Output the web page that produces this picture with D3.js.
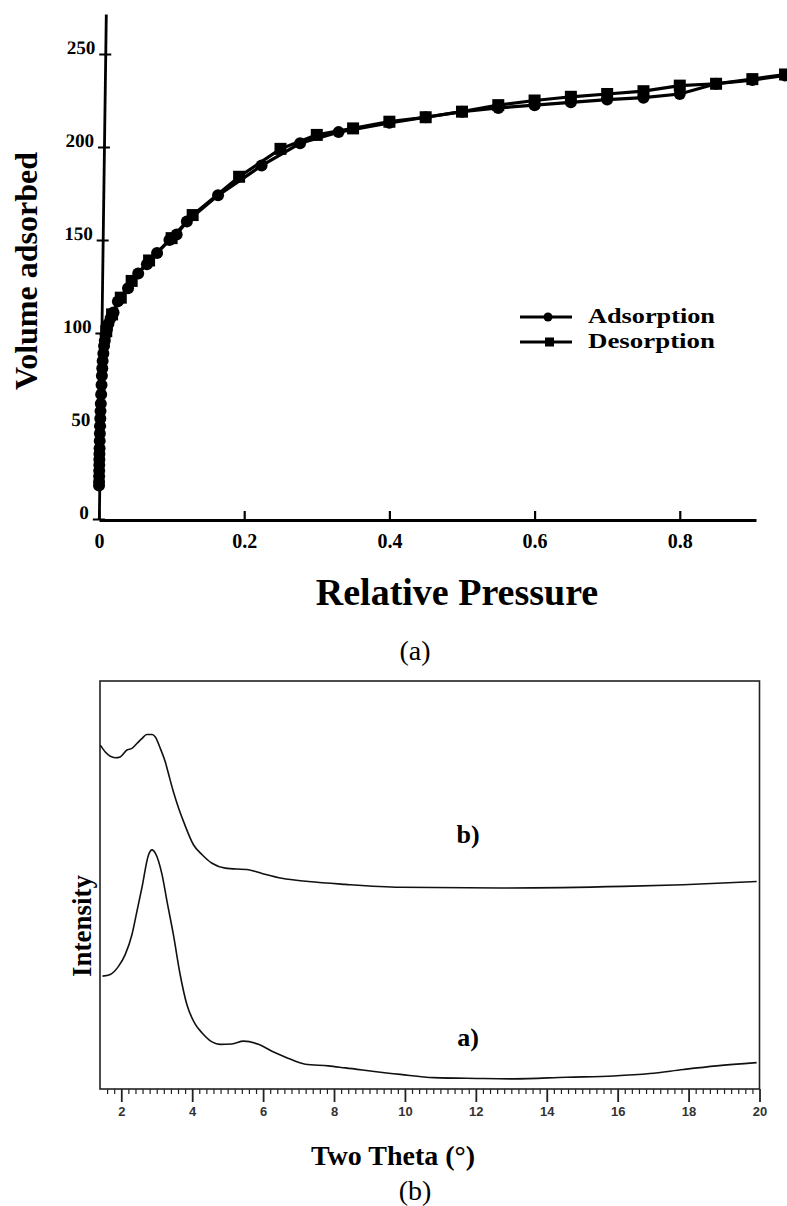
<!DOCTYPE html>
<html>
<head>
<meta charset="utf-8">
<script src="https://cdn.jsdelivr.net/npm/d3@7"></script>
<style>
  html, body { margin: 0; padding: 0; background: #fff; }
  svg { display: block; }
</style>
</head>
<body>
<svg id="fig" width="787" height="1206"></svg>
<script>
// ---------- (a) N2 isotherm ----------
const adsP = [0.00005,0.0001,0.0002,0.0003,0.0004,0.0005,0.0006,0.0008,0.001,0.0012,0.0015,0.0018,0.0021,0.0025,0.003,0.0035,0.004,0.0045,0.005,0.006,0.007,0.008,0.009,0.011,0.013,0.016,0.02,0.026,0.04,0.054,0.066,0.08,0.097,0.107,0.121,0.164,0.224,0.277,0.33,0.40,0.45,0.50,0.55,0.60,0.65,0.70,0.75,0.80,0.85,0.90,0.945];
const adsV = [18,20,23,26,29,32,35,38,42,46,50,54,58,62,67,72,77,81,85,89,93,96,99,102,105,108,111,117,124,132,137,143,150,153,160,174,190,202,208,213,216,219,221,222.5,224,225.5,226.5,228.5,234,236,238.5];
const desP = [0.945,0.90,0.85,0.80,0.75,0.70,0.65,0.60,0.55,0.50,0.45,0.40,0.35,0.30,0.25,0.193,0.129,0.10,0.069,0.045,0.03,0.018,0.01];
const desV = [239,236.5,234,233,230,228.5,227,225,222.5,219,216,213.6,210,206.5,199,184,163.4,151,139,128,119,110,101];
const volTicks = [0, 50, 100, 150, 200, 250];
const presTicks = [0, 0.2, 0.4, 0.6, 0.8];

// ---------- (b) low-angle XRD ----------
const thetaA = [1.47,1.69,1.92,2.11,2.30,2.44,2.58,2.77,2.87,2.96,3.15,3.29,3.47,3.66,3.85,4.09,4.28,4.56,4.79,5.12,5.45,5.87,6.25,6.62,7.19,7.84,8.32,9.87,10.81,12.03,13.06,14.57,15.88,16.91,17.85,18.79,19.92];
const intA = [278,282,302,331,380,437,495,577,589,581,528,462,380,282,208,159,138,116,110,111,118,110,93,79,61,57,52,36,28,26,25,29,32,38,48,57,65];
const thetaB = [1.41,1.55,1.83,1.97,2.16,2.30,2.44,2.58,2.72,2.87,2.96,3.10,3.24,3.33,3.47,3.62,3.76,4.04,4.28,4.56,4.93,5.59,5.97,6.53,7.28,8.32,9.87,12.69,16.16,17.85,19.92];
const intB = [847,830,816,818,835,839,851,863,873,873,867,839,806,777,732,691,658,601,577,556,544,540,531,519,511,504,497,495,499,503,511];
const thetaMajor = [2,4,6,8,10,12,14,16,18,20];
const thetaMinor = d3.range(16, 201, 2).map(v => v / 10).filter(v => v % 2 !== 0);

const SERIF = '"Liberation Serif", "Times New Roman", serif';
const SANS = '"Liberation Sans", Arial, sans-serif';
const svg = d3.select("#fig");

// ===== panel (a) =====
const xA = d3.scaleLinear().domain([0, 0.905]).range([99, 756]);
const yA = d3.scaleLinear().domain([0, 250]).range([519, 54]);
const yTop = yA.invert(14);

const gA = svg.append("g");

// y axis (slightly leaning, as in the printed figure)
const yAxis = d3.axisLeft(yA.copy().domain([0, yTop]).range([519, 14]))
  .tickValues(volTicks).tickSizeInner(6).tickSizeOuter(0).tickPadding(4)
  .tickFormat(d3.format("d"));
const gy = gA.append("g")
  .attr("transform", "translate(106,0) skewX(-0.79)")
  .call(yAxis);
gy.select(".domain").attr("stroke", "#000").attr("stroke-width", 2.8);
gy.selectAll(".tick line").attr("x1", 6).attr("stroke", "#000").attr("stroke-width", 2.2);
gy.selectAll(".tick text")
  .attr("font-family", SERIF).attr("font-weight", "bold").attr("font-size", 19)
  .attr("fill", "#000").attr("dy", "-0.05em");

// x axis
const xAxis = d3.axisBottom(xA).tickValues(presTicks)
  .tickSizeInner(-9).tickSizeOuter(0).tickPadding(14)
  .tickFormat(d => d === 0 ? "0" : d3.format(".1f")(d));
const gx = gA.append("g").attr("transform", "translate(0,520)").call(xAxis);
gx.select(".domain").attr("stroke", "#000").attr("stroke-width", 2.8);
gx.selectAll(".tick line").attr("stroke", "#000").attr("stroke-width", 2.2);
gx.selectAll(".tick text")
  .attr("font-family", SERIF).attr("font-weight", "bold").attr("font-size", 20)
  .attr("fill", "#000");

// curves
const lineA = d3.line().x(d => xA(d[0])).y(d => yA(d[1]));
const ads = adsP.map((p, i) => [p, adsV[i]]);
const des = desP.map((p, i) => [p, desV[i]]);

gA.append("path").datum(des).attr("d", lineA)
  .attr("fill", "none").attr("stroke", "#000").attr("stroke-width", 3.2);
gA.append("path").datum(ads).attr("d", lineA)
  .attr("fill", "none").attr("stroke", "#000").attr("stroke-width", 3.2);

const sq = 12;
gA.append("g").selectAll("rect").data(des).join("rect")
  .attr("x", d => xA(d[0]) - sq / 2).attr("y", d => yA(d[1]) - sq / 2)
  .attr("width", sq).attr("height", sq).attr("fill", "#000");
gA.append("g").selectAll("circle").data(ads).join("circle")
  .attr("cx", d => xA(d[0])).attr("cy", d => yA(d[1])).attr("r", 6).attr("fill", "#000");

// legend
const leg = gA.append("g");
[["Adsorption", "circle", 317], ["Desorption", "square", 342]].forEach(([label, shape, y]) => {
  leg.append("line").attr("x1", 520).attr("x2", 572).attr("y1", y).attr("y2", y)
    .attr("stroke", "#000").attr("stroke-width", 2.8);
  if (shape === "circle") {
    leg.append("circle").attr("cx", 548).attr("cy", y).attr("r", 4.5).attr("fill", "#000");
  } else {
    leg.append("rect").attr("x", 545).attr("y", y - 4.5).attr("width", 9).attr("height", 9).attr("fill", "#000");
  }
  leg.append("text").attr("x", 588).attr("y", y + 6).text(label)
    .attr("textLength", 127).attr("lengthAdjust", "spacingAndGlyphs")
    .attr("font-family", SERIF).attr("font-weight", "bold").attr("font-size", 20).attr("fill", "#000");
});

// titles
gA.append("text").attr("transform", "translate(37,271) rotate(-90)")
  .attr("text-anchor", "middle").text("Volume adsorbed")
  .attr("font-family", SERIF).attr("font-weight", "bold").attr("font-size", 32);
gA.append("text").attr("x", 457).attr("y", 605).attr("text-anchor", "middle")
  .text("Relative Pressure")
  .attr("font-family", SERIF).attr("font-weight", "bold").attr("font-size", 38);
svg.append("text").attr("x", 415).attr("y", 660).attr("text-anchor", "middle")
  .text("(a)").attr("font-family", SERIF).attr("font-size", 28);

// ===== panel (b) =====
const xB = d3.scaleLinear().domain([1.4, 20]).range([100, 759.5]);
const yB = d3.scaleLinear().domain([0, 1000]).range([1089, 683]);
const gB = svg.append("g");

gB.append("rect").attr("x", 100).attr("y", 681).attr("width", 659.5).attr("height", 408)
  .attr("fill", "none").attr("stroke", "#222").attr("stroke-width", 1.6);

const minorAxis = d3.axisBottom(xB).tickValues(thetaMinor).tickSize(5).tickFormat("");
const gmin = gB.append("g").attr("transform", "translate(0,1089)").call(minorAxis);
gmin.select(".domain").remove();
gmin.selectAll(".tick line").attr("stroke", "#222").attr("stroke-width", 1.2);

const majorAxis = d3.axisBottom(xB).tickValues(thetaMajor).tickSize(13).tickPadding(5)
  .tickFormat(d3.format("d"));
const gmaj = gB.append("g").attr("transform", "translate(0,1089)").call(majorAxis);
gmaj.select(".domain").remove();
gmaj.selectAll(".tick line").attr("stroke", "#222").attr("stroke-width", 1.8);
gmaj.selectAll(".tick text")
  .attr("font-family", SANS).attr("font-weight", "bold").attr("font-size", 13)
  .attr("fill", "#333");

const lineB = d3.line().x(d => xB(d[0])).y(d => yB(d[1])).curve(d3.curveMonotoneX);
gB.append("path").datum(thetaA.map((t, i) => [t, intA[i]])).attr("d", lineB)
  .attr("fill", "none").attr("stroke", "#111").attr("stroke-width", 1.6);
gB.append("path").datum(thetaB.map((t, i) => [t, intB[i]])).attr("d", lineB)
  .attr("fill", "none").attr("stroke", "#111").attr("stroke-width", 1.6);

gB.append("text").attr("x", 468).attr("y", 843).attr("text-anchor", "middle").text("b)")
  .attr("font-family", SERIF).attr("font-weight", "bold").attr("font-size", 26);
gB.append("text").attr("x", 468).attr("y", 1046).attr("text-anchor", "middle").text("a)")
  .attr("font-family", SERIF).attr("font-weight", "bold").attr("font-size", 26);

gB.append("text").attr("transform", "translate(91,926) rotate(-90)")
  .attr("text-anchor", "middle").text("Intensity")
  .attr("font-family", SERIF).attr("font-weight", "bold").attr("font-size", 27);
gB.append("text").attr("x", 393).attr("y", 1165).attr("text-anchor", "middle")
  .text("Two Theta (°)")
  .attr("font-family", SERIF).attr("font-weight", "bold").attr("font-size", 28);
svg.append("text").attr("x", 415).attr("y", 1200).attr("text-anchor", "middle")
  .text("(b)").attr("font-family", SERIF).attr("font-size", 28);
</script>
</body>
</html>
